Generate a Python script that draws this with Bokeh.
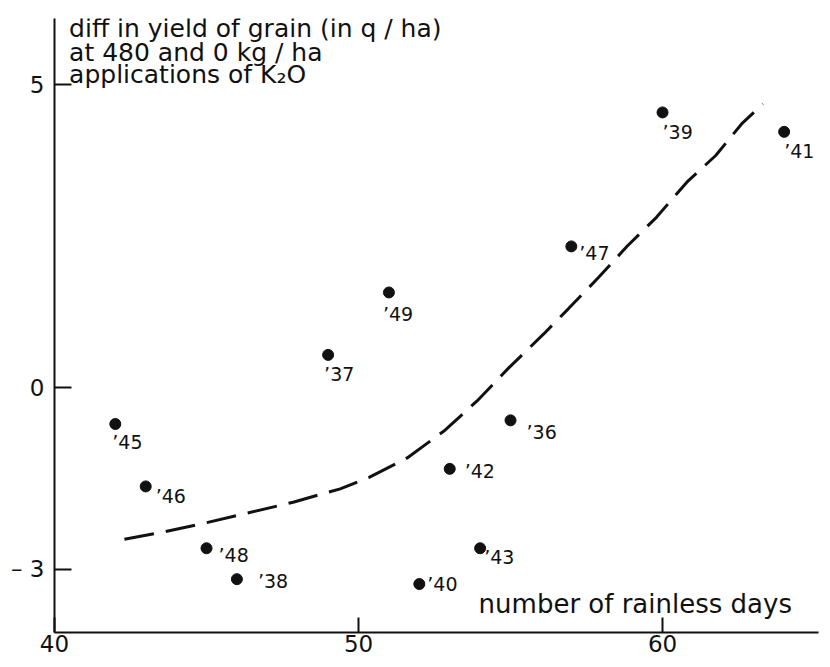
from bokeh.plotting import figure
from bokeh.models import ColumnDataSource, Label, FixedTicker, Range1d
from bokeh.core.properties import value
from bokeh.embed import file_html
from bokeh.resources import INLINE

# ---- data ----
years = ["’36", "’37", "’38", "’39", "’40", "’41", "’42", "’43", "’45", "’46", "’47", "’48", "’49"]
rainless_days = [55, 49, 46, 60, 52, 64, 53, 54, 42, 43, 57, 45, 51]
yield_diff = [-0.54, 0.54, -3.16, 4.54, -3.24, 4.22, -1.34, -2.65, -0.60, -1.63, 2.33, -2.65, 1.57]

curve_x = [42.3, 43.5, 44.9, 46.35, 47.85, 49.4, 50.35, 51.6, 52.8, 53.9, 54.95, 56.1, 56.9,
           57.9, 58.85, 59.8, 60.8, 61.75, 62.6, 63.3]
curve_y = [-2.50, -2.39, -2.24, -2.07, -1.89, -1.67, -1.48, -1.16, -0.72, -0.22, 0.33, 0.89, 1.30,
           1.82, 2.34, 2.81, 3.39, 3.83, 4.35, 4.68]

x_ticks = [40, 50, 60]
y_ticks = [-3, 0, 5]
y_tick_labels = ["– 3", "0", "5"]

title_lines = ["diff  in yield of grain (in q / ha)",
               "at 480 and 0 kg / ha",
               "applications of K₂O"]
x_title = "number of rainless days"

# label offsets (screen px) – layout only
lab_dx = [16, -4, 21, 0, 8, 0, 15, 4, -3, 10, 8, 12, -6]
lab_dy = [12, 19, 2, 20, 0, 19, 2, 9, 18, 10, 7, 7, 22]

FONT = "DejaVu Sans"
INK = "#111111"

p = figure(width=822, height=659, output_backend="svg", toolbar_location=None,
           x_range=Range1d(40, 65.13), y_range=Range1d(-4.04, 6.09),
           min_border_left=54, min_border_right=4, min_border_top=18, min_border_bottom=27)
p.outline_line_color = None
p.grid.visible = False
p.background_fill_color = "white"
p.border_fill_color = "white"

for ax in (p.xaxis[0], p.yaxis[0]):
    ax.axis_line_width = 2
    ax.axis_line_color = INK
    ax.major_tick_line_width = 2
    ax.major_tick_line_color = INK
    ax.major_tick_out = 0
    ax.minor_tick_line_color = None
    ax.major_label_text_font = FONT
    ax.major_label_text_font_size = "23px"
    ax.major_label_text_color = INK

p.xaxis.ticker = FixedTicker(ticks=x_ticks)
p.xaxis.major_tick_in = 15
p.xaxis.major_label_standoff = 2
p.yaxis.ticker = FixedTicker(ticks=y_ticks)
p.yaxis.major_tick_in = 17
p.yaxis.major_label_standoff = 10
p.yaxis.major_label_overrides = {t: s for t, s in zip(y_ticks, y_tick_labels)}

# fitted curve
p.line(curve_x, curve_y, line_color=INK, line_width=3, line_dash="30 12")

src = ColumnDataSource(dict(x=rainless_days, y=yield_diff, t=years, dx=lab_dx, dy=lab_dy))
p.scatter("x", "y", source=src, size=11, fill_color=INK, line_color=INK)
p.text("x", "y", text="t", source=src, x_offset="dx", y_offset="dy",
       text_font=value(FONT), text_font_size="19px", text_color=INK,
       text_align="left", text_baseline="middle")

for ln, yy in zip(title_lines, [5.92, 5.528, 5.165]):
    p.add_layout(Label(x=40.48, y=yy, text=ln, text_font=FONT, text_font_size="25px",
                       text_color=INK, text_baseline="alphabetic", text_align="left"))

p.add_layout(Label(x=53.95, y=-3.564, text=x_title, text_font=FONT, text_font_size="26px",
                   text_color=INK, text_baseline="alphabetic", text_align="left"))

open("out.html", "w").write(file_html(p, INLINE))
